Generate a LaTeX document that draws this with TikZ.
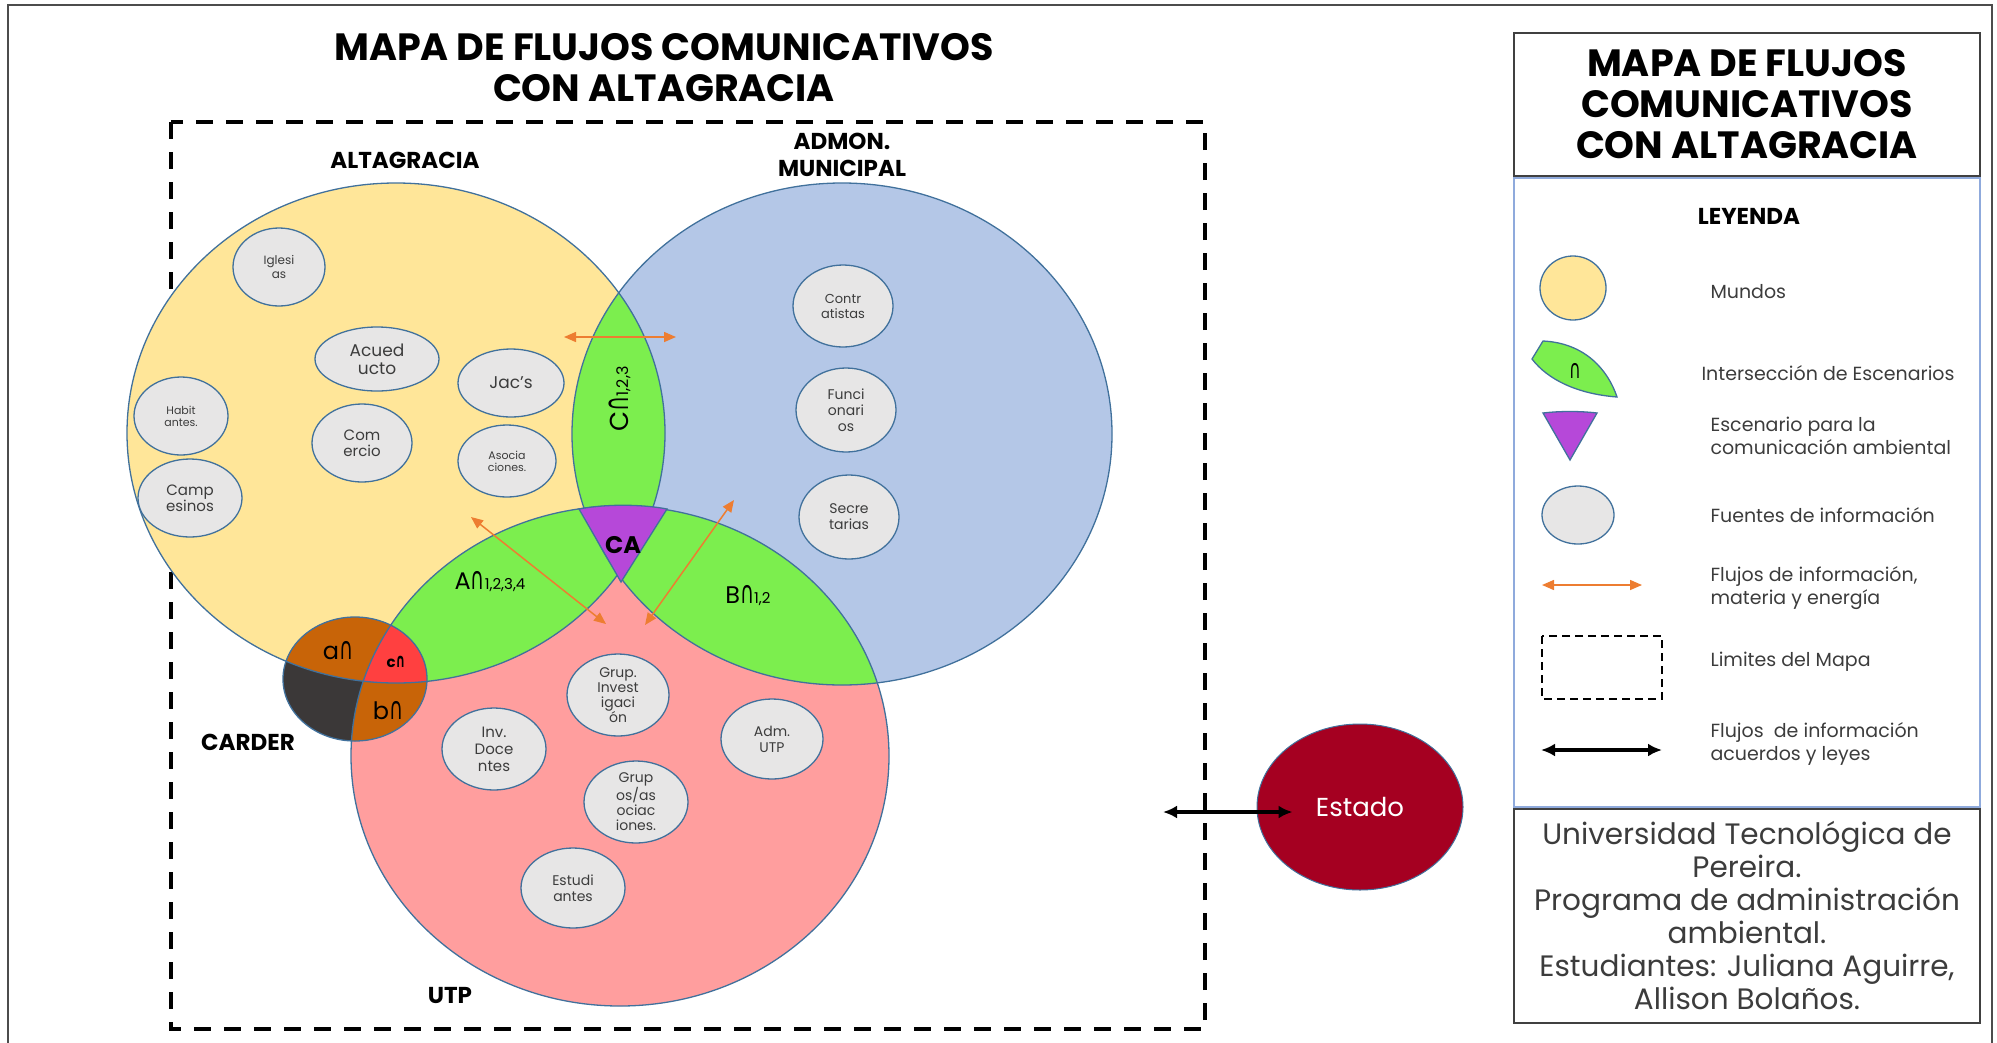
\documentclass[tikz,border=0pt]{standalone}
\usepackage{fontspec}
\usepackage{graphicx}
\setmainfont{Poppins}
\newfontfamily\dvfont{DejaVu Sans}
\usepackage{tikz}
\usetikzlibrary{
    arrows.meta,
    calc,
    positioning,
    shapes.geometric,
}
\definecolor{amarillo}{RGB}{255,230,153}
\definecolor{azulmun}{RGB}{180,199,231}
\definecolor{rosa}{RGB}{255,158,158}
\definecolor{verde}{RGB}{124,238,78}
\definecolor{morado}{RGB}{182,72,217}
\definecolor{borde}{RGB}{65,113,156}
\definecolor{gris}{RGB}{231,230,230}
\definecolor{cafe}{RGB}{200,100,8}
\definecolor{rojo}{RGB}{255,64,64}
\definecolor{oscuro}{RGB}{59,56,56}
\definecolor{vino}{RGB}{165,0,33}
\definecolor{naranja}{RGB}{237,125,49}
\definecolor{azulley}{RGB}{143,170,220}
\definecolor{texto}{RGB}{60,60,60}
\newcommand{\inter}{\scalebox{0.8}[1.3]{\dvfont ∩}}
\newcommand{\interb}{\scalebox{0.8}[1.3]{\dvfont\bfseries ∩}}
\newcommand{\mundoA}{(396,433) ellipse [x radius=269, y radius=250]}
\newcommand{\mundoB}{(842,434) ellipse [x radius=270, y radius=251]}
\newcommand{\mundoC}{(620,756) ellipse [x radius=269, y radius=250]}
\newcommand{\carder}{(355,679) ellipse [x radius=72, y radius=62]}
\tikzstyle{flujo}=[naranja, line width=1.5pt, {Triangle[length=12pt, width=10pt]}-{Triangle[length=12pt, width=10pt]}]
\tikzstyle{ley}=[black, line width=4pt, {Latex[length=14pt, width=13pt]}-{Latex[length=14pt, width=13pt]}]
\tikzset{
    fuente/.style={ellipse, draw=borde, fill=gris, line width=1.3pt, inner sep=0pt, align=center, text=texto},
    contorno/.style={draw=borde, line width=1.3pt},
    rotulo/.style={font=\bfseries\fontsize{23}{27}\selectfont, align=center},
    titulo/.style={font=\bfseries\fontsize{38}{41}\selectfont, align=center},
    leytxt/.style={anchor=west, align=left, text=texto, font=\fontsize{19}{23}\selectfont},
}

\begin{document}
\begin{tikzpicture}[x=1pt, y=-1pt]
\useasboundingbox (0,0) rectangle (1997,1042);
\draw[line width=2.5pt, black!70] (8,1060) -- (8,5) -- (1992,5) -- (1992,1060);
\draw[line width=4.5pt, dash pattern=on 17pt off 13pt] (171,122) rectangle (1205,1029);

% mundos e intersecciones
\fill[amarillo] \mundoA;
\fill[azulmun] \mundoB;
\fill[rosa] \mundoC;
\begin{scope}
    \clip \mundoA;
    \fill[verde] \mundoB;
    \fill[verde] \mundoC;
\end{scope}
\begin{scope}
    \clip \mundoB;
    \fill[verde] \mundoC;
\end{scope}
\draw[contorno] \mundoA;
\draw[contorno] \mundoB;
\draw[contorno] \mundoC;
\filldraw[fill=morado, contorno] (579,509) .. controls (605,504) and (641,504) .. (667,509) -- (621,582) -- cycle;

% CARDER
\fill[oscuro] \carder;
\begin{scope}
    \clip \carder;
    \fill[cafe] \mundoA;
    \fill[cafe] \mundoC;
    \begin{scope}
        \clip \mundoA;
        \fill[rojo] \mundoC;
    \end{scope}
    \draw[contorno] \mundoA;
    \draw[contorno] \mundoC;
\end{scope}
\draw[contorno] \carder;

\node[titulo] (titulo) at (664,68) {MAPA DE FLUJOS COMUNICATIVOS\\CON ALTAGRACIA};
\node[rotulo] (altag) at (405,160) {ALTAGRACIA};
\node[rotulo] (admon) at (842,155) {ADMON.\\MUNICIPAL};
\node[rotulo] (carderlbl) at (248,742) {CARDER};
\node[rotulo] (utp) at (450,995) {UTP};

\node[rotate=90] (lblC) at (620,399) {\fontsize{26}{26}\selectfont C\inter{\fontsize{16}{16}\selectfont 1,2,3}};
\node (lblA) at (490,582) {\fontsize{24}{24}\selectfont A\inter{\fontsize{15}{15}\selectfont 1,2,3,4}};
\node (lblB) at (748,596) {\fontsize{24}{24}\selectfont B\inter{\fontsize{15}{15}\selectfont 1,2}};
\node[font=\bfseries\fontsize{24}{24}\selectfont] (lblCA) at (623,545) {CA};
\node[font=\fontsize{24}{24}\selectfont] (lbla) at (338,651) {a\inter};
\node[font=\bfseries\fontsize{15}{15}\selectfont] (lblc) at (396,662) {c\interb};
\node[font=\fontsize{24}{24}\selectfont] (lblb) at (388,711) {b\inter};

% fuentes de informacion
\node[fuente, minimum width=92, minimum height=78, font=\fontsize{12}{14}\selectfont] (iglesias) at (279,267) {Iglesi\\as};
\node[fuente, minimum width=124, minimum height=64, font=\fontsize{17}{18}\selectfont] (acued) at (377,359) {Acued\\ucto};
\node[fuente, minimum width=106, minimum height=68, font=\fontsize{17}{19}\selectfont] (jacs) at (511,383) {Jac’s};
\node[fuente, minimum width=94, minimum height=78, font=\fontsize{11}{12}\selectfont] (habit) at (181,416) {Habit\\antes.};
\node[fuente, minimum width=100, minimum height=78, font=\fontsize{15}{16}\selectfont] (comercio) at (362,443) {Com\\ercio};
\node[fuente, minimum width=98, minimum height=72, font=\fontsize{11}{12}\selectfont] (asocia) at (507,461) {Asocia\\ciones.};
\node[fuente, minimum width=104, minimum height=78, font=\fontsize{15}{16}\selectfont] (camp) at (190,498) {Camp\\esinos};
\node[fuente, minimum width=100, minimum height=82, font=\fontsize{13}{15}\selectfont] (contr) at (843,306) {Contr\\atistas};
\node[fuente, minimum width=100, minimum height=84, font=\fontsize{14}{16}\selectfont] (funci) at (846,410) {Funci\\onari\\os};
\node[fuente, minimum width=100, minimum height=84, font=\fontsize{14}{16}\selectfont] (secre) at (849,517) {Secre\\tarias};
\node[fuente, minimum width=102, minimum height=82, font=\fontsize{14}{15}\selectfont] (grupinv) at (618,695) {Grup.\\Invest\\igaci\\ón};
\node[fuente, minimum width=104, minimum height=82, font=\fontsize{15}{17}\selectfont] (invdoc) at (494,749) {Inv.\\Doce\\ntes};
\node[fuente, minimum width=102, minimum height=80, font=\fontsize{14}{16}\selectfont] (admutp) at (772,739) {Adm.\\UTP};
\node[fuente, minimum width=104, minimum height=82, font=\fontsize{14}{15}\selectfont] (grupos) at (636,802) {Grup\\os/as\\ociac\\iones.};
\node[fuente, minimum width=104, minimum height=80, font=\fontsize{14}{16}\selectfont] (estud) at (573,888) {Estudi\\antes};

% flujos
\coordinate (fa1) at (564,337);
\coordinate (fa2) at (676,337);
\coordinate (fb1) at (471,517);
\coordinate (fb2) at (606,624);
\coordinate (fc1) at (734,500);
\coordinate (fc2) at (645,625);
\draw[flujo] (fa1) -- (fa2);
\draw[flujo] (fb1) -- (fb2);
\draw[flujo] (fc1) -- (fc2);

\node[ellipse, fill=vino, draw=borde, line width=1pt, minimum width=206, minimum height=166, inner sep=0pt, text=white, font=\fontsize{26}{26}\selectfont] (estado) at (1360,807) {Estado};
\coordinate (limite) at (1163,812);
\draw[ley] (limite) -- ($(limite -| estado.west)+(36,0)$);

% leyenda
\node[draw=black!75, line width=2pt, minimum width=466, minimum height=143, inner sep=0pt, titulo] (leytit) at (1747,104.5) {MAPA DE FLUJOS\\COMUNICATIVOS\\CON ALTAGRACIA};
\node[draw=azulley, line width=1.5pt, minimum width=466, minimum height=629, inner sep=0pt, below=0pt of leytit] (leycaja) {};
\node[draw=black!75, line width=2pt, minimum width=466, minimum height=214, inner sep=0pt, below=0pt of leycaja, align=center, text=texto, font=\fontsize{29.5}{33}\selectfont] (creditos) {Universidad Tecnológica de\\Pereira.\\Programa de administración\\ambiental.\\Estudiantes: Juliana Aguirre,\\Allison Bolaños.};
\node[rotulo] (leyenda) at (1749,216) {LEYENDA};

\node[ellipse, fill=amarillo, contorno, minimum width=66, minimum height=64, inner sep=0pt] (icmundo) at (1573,288) {};
\filldraw[fill=verde, contorno] (1532,359) -- (1543,341) .. controls (1585,343) and (1608,370) .. (1617,397) .. controls (1578,394) and (1548,380) .. cycle;
\node[font=\fontsize{20}{20}\selectfont] (icinter) at (1575,371) {\inter};
\filldraw[fill=morado, contorno] (1543,413) .. controls (1560,411) and (1580,411) .. (1597,413) -- (1570,460) -- cycle;
\node[fuente, minimum width=72, minimum height=58] (icfuente) at (1578,515) {};
\coordinate (lf1) at (1542,585);
\coordinate (lf2) at (1642,585);
\draw[flujo] (lf1) -- (lf2);
\draw[line width=2pt, dash pattern=on 8pt off 5pt] (1542,636) rectangle (1662,699);
\coordinate (ll1) at (1541,750);
\coordinate (ll2) at (1662,750);
\draw[ley] (ll1) -- (ll2);

\node[leytxt] (txmundo) at (1707,292) {Mundos};
\node[leytxt] (txinter) at (1698,373) {Intersección de Escenarios};
\node[leytxt] (txesc) at (1707,436) {Escenario para la\\comunicación ambiental};
\node[leytxt] (txfuente) at (1707,515) {Fuentes de información};
\node[leytxt] (txflujo) at (1707,588) {Flujos de información,\\materia y energía};
\node[leytxt] (txlim) at (1707,662) {Limites del Mapa};
\node[leytxt] (txley) at (1707,744) {Flujos\ \ de información\\acuerdos y leyes};
\end{tikzpicture}
\end{document}
